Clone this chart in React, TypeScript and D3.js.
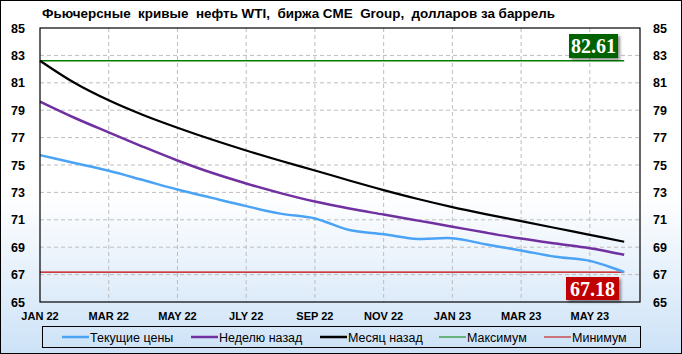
import React from "react";
import * as d3 from "d3";

// months Jan 22 .. Jun 23
const months = [
  "JAN 22", "FEB 22", "MAR 22", "APR 22", "MAY 22", "JUN 22", "JLY 22", "AUG 22", "SEP 22",
  "OCT 22", "NOV 22", "DEC 22", "JAN 23", "FEB 23", "MAR 23", "APR 23", "MAY 23", "JUN 23",
];

const current = [
  75.72, 75.15, 74.58, 73.9, 73.21, 72.6, 72.0, 71.45, 71.1, 70.25, 69.95, 69.6,
  69.65, 69.2, 68.76, 68.3, 68.0, 67.18,
];
const weekAgo = [
  79.63, 78.45, 77.38, 76.33, 75.33, 74.43, 73.65, 72.95, 72.33, 71.82, 71.38, 70.94,
  70.5, 70.05, 69.63, 69.27, 68.93, 68.45,
];
const monthAgo = [
  82.61, 81.0, 79.72, 78.65, 77.72, 76.86, 76.06, 75.31, 74.6, 73.87, 73.17, 72.52,
  71.93, 71.4, 70.9, 70.4, 69.9, 69.4,
];
const maxValue = 82.61;
const minValue = 67.18;

const yTicks = [65, 67, 69, 71, 73, 75, 77, 79, 81, 83, 85];
const xTickIdx = [0, 2, 4, 6, 8, 10, 12, 14, 16];

const legendItems = [
  { label: "Текущие цены", color: "#4aa3f5", w: 2.5, x: 62 },
  { label: "Неделю назад", color: "#7030a0", w: 2.5, x: 191 },
  { label: "Месяц назад", color: "#000000", w: 2.5, x: 320 },
  { label: "Максимум", color: "#008000", w: 1, x: 439 },
  { label: "Минимум", color: "#c00000", w: 1, x: 544 },
];

const W = 682;
const H = 354;
const left = 40;
const right = 640;
const top = 28;
const bottom = 302;

export default function App() {
  const x = d3.scaleLinear().domain([0, 17.46]).range([left, right]);
  const y = d3.scaleLinear().domain([65, 85]).range([bottom, top]);

  const line = d3
    .line<number>()
    .x((_, i) => x(i))
    .y((d) => y(d))
    .curve(d3.curveCatmullRom.alpha(0.5));

  const lastX = x(months.length - 1);
  const font = "'Liberation Sans', Arial, sans-serif";

  return (
    <svg
      width={W}
      height={H}
      style={{ position: "absolute", left: 0, top: 0 }}
      fontFamily={font}
    >
      <defs>
        <linearGradient id="bg" x1="0" y1="0" x2="0" y2="1">
          <stop offset="0" stopColor="#ffffff" />
          <stop offset="0.55" stopColor="#ffffff" />
          <stop offset="1" stopColor="#cde2f7" />
        </linearGradient>
        <filter id="shadow" x="-20%" y="-20%" width="150%" height="160%">
          <feDropShadow dx="2" dy="2" stdDeviation="1.5" floodColor="#000" floodOpacity="0.45" />
        </filter>
      </defs>
      <rect x={0.5} y={0.5} width={W - 1} height={H - 1} fill="url(#bg)" stroke="#000" />

      <text
        x={42}
        y={18}
        fontSize={12.5}
        fontWeight="bold"
        style={{ whiteSpace: "pre" }}
        textLength={513}
        lengthAdjust="spacingAndGlyphs"
      >
        {"Фьючерсные  кривые  нефть WTI,  биржа CME  Group,  долларов за баррель"}
      </text>

      {/* grid */}
      {yTicks.slice(1, -1).map((t) => (
        <line key={"gy" + t} x1={left} x2={right} y1={y(t)} y2={y(t)} stroke="#bdbdbd" strokeDasharray="4,3" />
      ))}
      {xTickIdx.slice(1).map((i) => (
        <line key={"gx" + i} x1={x(i)} x2={x(i)} y1={top} y2={bottom} stroke="#bdbdbd" strokeDasharray="4,3" />
      ))}

      {/* axis labels */}
      {yTicks.map((t) => (
        <g key={"yl" + t} fontSize={12.5} fontWeight="bold">
          <text x={18} y={y(t) + 4.5} textAnchor="middle">{t}</text>
          <text x={660} y={y(t) + 4.5} textAnchor="middle">{t}</text>
        </g>
      ))}
      {xTickIdx.map((i) => (
        <text key={"xl" + i} x={x(i)} y={320} textAnchor="middle" fontSize={11} fontWeight="bold">
          {months[i]}
        </text>
      ))}

      {/* reference lines */}
      <line x1={left} x2={lastX} y1={y(maxValue)} y2={y(maxValue)} stroke="#008000" strokeWidth={1.3} />
      <line x1={left} x2={lastX} y1={y(minValue)} y2={y(minValue)} stroke="#c00000" strokeWidth={1.3} />

      <path d={line(monthAgo) || ""} fill="none" stroke="#000" strokeWidth={2.2} />
      <path d={line(weekAgo) || ""} fill="none" stroke="#7030a0" strokeWidth={2.5} />
      <path d={line(current) || ""} fill="none" stroke="#4aa3f5" strokeWidth={2.5} />

      <rect x={left} y={top} width={right - left} height={bottom - top} fill="none" stroke="#000" strokeWidth={1.2} />

      {/* value badges */}
      <g filter="url(#shadow)">
        <rect x={569} y={34} width={49} height={24} fill="#006400" />
        <rect x={566} y={277} width={53} height={23} fill="#c00000" />
      </g>
      <text x={593.5} y={53} textAnchor="middle" fill="#fff" fontSize={20} fontWeight="bold"
        fontFamily="'Liberation Serif', 'Times New Roman', serif">
        {maxValue.toFixed(2)}
      </text>
      <text x={592.5} y={296} textAnchor="middle" fill="#fff" fontSize={20} fontWeight="bold"
        fontFamily="'Liberation Serif', 'Times New Roman', serif">
        {minValue.toFixed(2)}
      </text>

      {/* legend */}
      <rect x={42.5} y={326.5} width={598} height={21} fill="none" stroke="#000" />
      {legendItems.map((d) => (
        <g key={d.label}>
          <line x1={d.x} x2={d.x + 27} y1={337} y2={337} stroke={d.color} strokeWidth={d.w} />
          <text x={d.x + 28} y={341.5} fontSize={12.5}>{d.label}</text>
        </g>
      ))}
    </svg>
  );
}
